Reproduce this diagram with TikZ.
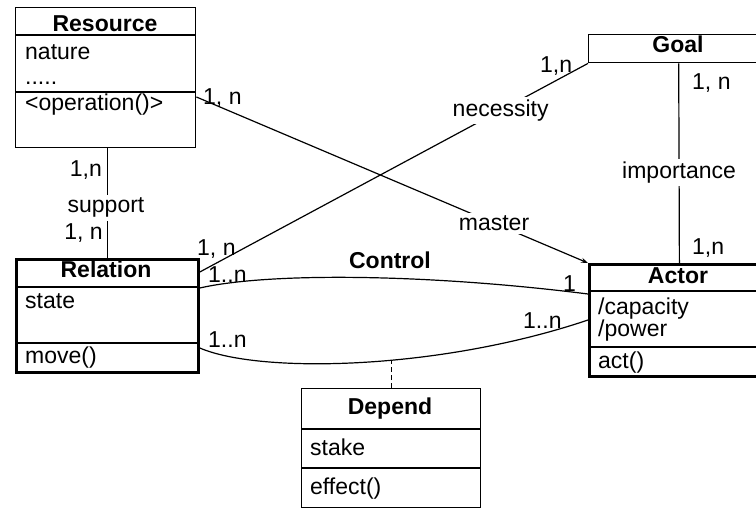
\documentclass[tikz,border=0pt]{standalone}
\usepackage{fontspec}
\setmainfont{Liberation Sans}
\usetikzlibrary{arrows.meta,calc}
\begin{document}
\begin{tikzpicture}[x=1bp,y=-1bp,
  thinbox/.style={draw, line width=1.4bp, anchor=north west, inner sep=0pt},
  thickbox/.style={draw, line width=2.8bp, anchor=north west, inner sep=0pt},
  thinline/.style={line width=1.4bp},
  thickline/.style={line width=2.8bp},
  txt/.style={font=\fontsize{23bp}{27bp}\selectfont, inner sep=0pt, anchor=base west},
  ttl/.style={font=\fontsize{23bp}{27bp}\selectfont\bfseries, inner sep=0pt, anchor=base},
  multr/.style={txt, anchor=base east},
  conn/.style={line width=1.2bp},
  gap/.style={fill=white, inner sep=3bp, font=\fontsize{23bp}{27bp}\selectfont}
]
\useasboundingbox (0,0) rectangle (756,510);

% ---- class boxes
\node[thinbox, minimum width=180bp, minimum height=140bp] (res) at (15,7) {};
\draw[thinline] ($(res.north west)+(0,28)$) -- ($(res.north east)+(0,28)$);
\draw[thinline] ($(res.north west)+(0,85)$) -- ($(res.north east)+(0,85)$);
\node[ttl] (resT) at (105,32) {Resource};
\node[txt] (resA1) at (25,60) {nature};
\node[txt] (resA2) at (25,85) {.....};
\node[txt] (resO1) at (25,111) {<operation()>};

\node[thickbox, minimum width=182bp, minimum height=113bp] (rel) at (15,258) {};
\draw[thickline] ($(rel.north west)+(0,29)$) -- ($(rel.north east)+(0,29)$);
\draw[thickline] ($(rel.north west)+(0,85)$) -- ($(rel.north east)+(0,85)$);
\node[ttl] (relT) at (106,278) {Relation};
\node[txt] (relA1) at (25,308) {state};
\node[txt] (relO1) at (25,363) {move()};

\node[thickbox, minimum width=180bp, minimum height=112bp] (act) at (588,263) {};
\draw[thickline] ($(act.north west)+(0,28)$) -- ($(act.north east)+(0,28)$);
\draw[thickline] ($(act.north west)+(0,84)$) -- ($(act.north east)+(0,84)$);
\node[ttl] (actT) at (678,284) {Actor};
\node[txt] (actA1) at (598,314) {/capacity};
\node[txt] (actA2) at (598,336) {/power};
\node[txt] (actO1) at (598,368) {act()};

\node[thinbox, minimum width=180bp, minimum height=28bp] (goal) at (588,34) {};
\node[ttl] (goalT) at (678,53) {Goal};

\node[thinbox, minimum width=179bp, minimum height=119bp] (dep) at (301,388) {};
\draw[thinline] ($(dep.north west)+(0,41)$) -- ($(dep.north east)+(0,41)$);
\draw[thinline] ($(dep.north west)+(0,80)$) -- ($(dep.north east)+(0,80)$);
\node[ttl] (depT) at (390,414) {Depend};
\node[txt] (depA1) at (310,455) {stake};
\node[txt] (depO1) at (310,494) {effect()};

% ---- support
\draw[conn] (rel.north) -- (rel.north |- res.south);
\node[gap, anchor=base] (supL) at (106,213) {support};
\node[multr] (supM1) at (102,177) {1,n};
\node[multr] (supM2) at (103,240) {1, n};

% ---- master
\draw[conn, -{Stealth[length=7bp,width=5bp]}] ($(res.north east)+(0,90)$) -- (act.north west)
  node[gap, pos=0.76] (masL) {master};
\node[txt] (masM) at (203,105) {1, n};

% ---- necessity
\draw[conn] ($(rel.north east)+(0,14)$) -- (goal.south west)
  node[gap, pos=0.775] (necL) {necessity};
\node[txt] (necM1) at (197,256) {1, n};
\node[txt] (necM2) at (540,73) {1,n};

% ---- importance
\draw[conn] (goal.south) -- (act.north)
  node[gap, pos=0.547] (impL) {importance};
\node[txt] (impM1) at (692,90) {1, n};
\node[txt] (impM2) at (692,255) {1,n};

% ---- Control
\draw[conn] ($(rel.north east)+(0,30)$) .. controls (270,272) and (430,274) .. ($(act.north west)+(0,31)$);
\node[ttl] (ctlL) at (390,269) {Control};
\node[txt] (ctlM1) at (208,283) {1..n};
\node[txt] (ctlM2) at (563,292) {1};

% ---- lower association with Depend
\draw[conn] ($(rel.north east)+(0,90)$) .. controls (260,374) and (440,370) .. ($(act.north west)+(0,57)$)
  coordinate[pos=0.57] (cmid);
\node[txt] (lowM1) at (208,347) {1..n};
\node[txt] (lowM2) at (523,328) {1..n};
\draw[conn, dash pattern=on 5bp off 3bp] (dep.north) -- (dep.north |- cmid);
\end{tikzpicture}
\end{document}
